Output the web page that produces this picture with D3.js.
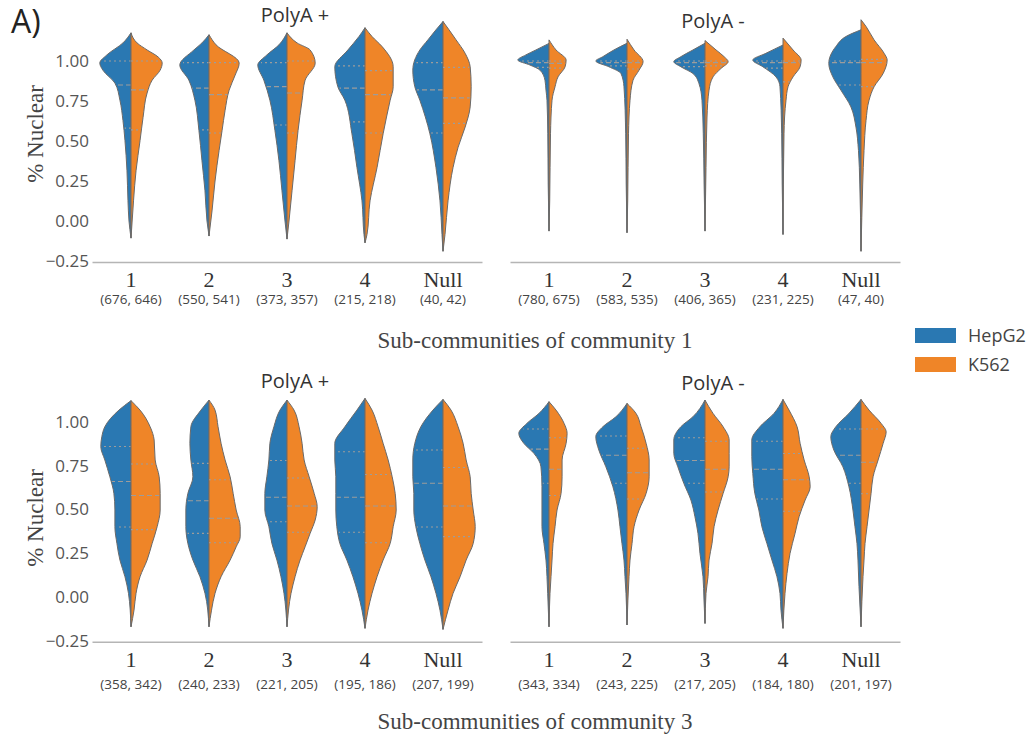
<!DOCTYPE html>
<html>
<head>
<meta charset="utf-8">
<script src="https://d3js.org/d3.v7.min.js"></script>
<style>
  body { margin: 0; background: #fff; }
  .sans { font-family: "Open Sans", "DejaVu Sans", sans-serif; }
  .serif { font-family: "Liberation Serif", "Times New Roman", serif; }
</style>
</head>
<body>
<svg width="1036" height="736"></svg>
<script>
// ---- data ----
const categories = ["1", "2", "3", "4", "Null"];
const cellLines = ["HepG2", "K562"];
const yTicks = [-0.25, 0, 0.25, 0.5, 0.75, 1.0];
const panelTitles = ["PolyA +", "PolyA -", "PolyA +", "PolyA -"];
const xTitles = ["Sub-communities of community 1", "Sub-communities of community 3"];

const countsC1Plus  = ["(676, 646)", "(550, 541)", "(373, 357)", "(215, 218)", "(40, 42)"];
const countsC1Minus = ["(780, 675)", "(583, 535)", "(406, 365)", "(231, 225)", "(47, 40)"];
const countsC3Plus  = ["(358, 342)", "(240, 233)", "(221, 205)", "(195, 186)", "(207, 199)"];
const countsC3Minus = ["(343, 334)", "(243, 225)", "(217, 205)", "(184, 180)", "(201, 197)"];

// violin half profiles: [% nuclear, density] from top to bottom
const densC1PlusHepG2 = [
  [[1.176,0],[1.113,8],[1.038,24],[0.987,31],[0.943,28],[0.862,16],[0.755,11],[0.629,8],[0.503,6],[0.314,4],[0.126,3],[0,2],[-0.107,0]],
  [[1.164,0],[1.113,7],[1.069,15],[0.975,29],[0.88,20],[0.755,14],[0.566,10],[0.377,7],[0.189,4],[0,2],[-0.094,0]],
  [[1.176,0],[1.101,8],[1.038,20],[0.975,29],[0.88,23],[0.755,17],[0.566,12],[0.377,8],[0.189,5],[0,2],[-0.113,0]],
  [[1.208,0],[1.153,6],[1.069,17],[0.964,30],[0.839,27],[0.755,20],[0.545,13],[0.335,8],[0.126,3],[-0.084,1],[-0.136,0]],
  [[1.247,0],[1.195,7],[1.132,15],[1.069,23],[0.943,30],[0.839,28],[0.755,23],[0.545,13],[0.335,7],[0.126,3],[-0.084,1],[-0.189,0]]
];
const densC1PlusK562 = [
  [[1.176,0],[1.113,6],[1.069,16],[1.025,27],[0.987,31],[0.943,29],[0.88,21],[0.80,16],[0.648,12],[0.503,9],[0.314,5],[0.126,2.5],[-0.107,0]],
  [[1.164,0],[1.101,7],[0.987,30],[0.912,26],[0.818,20],[0.692,16],[0.566,13],[0.44,10],[0.25,6],[0.063,3],[-0.094,0]],
  [[1.176,0],[1.113,10],[1.069,23],[0.987,28],[0.88,18],[0.755,15],[0.566,11],[0.377,8],[0.189,5],[0,2],[-0.113,0]],
  [[1.208,0],[1.153,7],[1.090,17],[0.964,28],[0.839,28],[0.755,25],[0.545,18],[0.335,12],[0.126,5],[-0.084,2],[-0.136,0]],
  [[1.247,0],[1.195,6],[1.132,13],[1.048,22],[0.964,27],[0.839,28],[0.713,27],[0.587,22],[0.461,15],[0.335,10],[0.126,5],[-0.084,2],[-0.189,0]]
];
const densC1MinusHepG2 = [
  [[1.11,0],[1.069,13],[1.038,23],[1.006,31],[0.975,19],[0.943,9],[0.88,4],[0.818,3],[0.755,2],[0.545,1.2],[0.231,0.8],[-0.063,0]],
  [[1.111,0],[1.069,13],[1.027,24],[1.0,31],[0.964,18],[0.922,6],[0.839,3],[0.545,1.3],[0.231,0.8],[-0.073,0]],
  [[1.111,0],[1.069,12],[1.027,24],[0.996,31],[0.964,24],[0.922,12],[0.859,6],[0.755,3],[0.545,1.7],[0.231,0.9],[-0.063,0]],
  [[1.10,0],[1.048,17],[1.006,30],[0.964,20],[0.901,7],[0.839,3],[0.545,1.3],[0.231,0.8],[-0.084,0]],
  [[1.195,0],[1.153,15],[1.090,25],[0.985,32],[0.901,28],[0.818,20],[0.713,10],[0.587,5],[0.44,2.5],[0.231,1.2],[-0.189,0]]
];
const densC1MinusK562 = [
  [[1.132,0],[1.069,7],[1.006,17],[0.964,16],[0.901,9],[0.839,6],[0.755,3],[0.545,1.5],[0.126,0.7],[-0.063,0]],
  [[1.136,0],[1.069,7],[0.996,16],[0.943,12],[0.88,6],[0.755,3],[0.545,1.5],[0.126,0.7],[-0.073,0]],
  [[1.128,0],[1.069,11],[1.027,19],[0.996,23],[0.954,16],[0.901,8],[0.818,4],[0.65,2],[0.335,1],[-0.063,0]],
  [[1.143,0],[1.069,10],[1.006,18],[0.964,17],[0.901,10],[0.839,5],[0.755,3],[0.545,1],[-0.084,0]],
  [[1.258,0],[1.216,5],[1.132,13],[1.048,23],[1.006,26],[0.922,22],[0.839,13],[0.755,8],[0.629,5],[0.44,3],[0.231,1.7],[0.021,0.8],[-0.189,0]]
];
const densC3PlusHepG2 = [
  [[1.122,0],[1.068,12],[0.973,26],[0.916,29],[0.859,30],[0.783,26],[0.687,21],[0.592,17],[0.497,16],[0.402,16],[0.306,14],[0.211,11],[0.116,6],[0.021,2.5],[-0.17,0]],
  [[1.125,0],[1.068,8],[0.973,18],[0.878,19],[0.783,18],[0.687,16],[0.592,21],[0.497,23],[0.402,23],[0.306,21],[0.211,16],[0.116,9],[0.021,4],[-0.17,0]],
  [[1.125,0],[1.068,7],[0.973,13],[0.878,17],[0.783,18],[0.687,20],[0.592,22],[0.497,22],[0.402,18],[0.306,15],[0.211,10],[0.116,6],[0.021,3],[-0.17,0]],
  [[1.135,0],[1.068,8],[0.973,20],[0.878,30],[0.783,30],[0.687,29],[0.592,29],[0.497,29],[0.402,28],[0.306,25],[0.211,18],[0.116,12],[0.021,7],[-0.075,3],[-0.179,0]],
  [[1.129,0],[1.068,10],[0.973,22],[0.878,28],[0.783,30],[0.687,30],[0.592,29],[0.497,29],[0.402,27],[0.306,23],[0.211,18],[0.116,12],[0.021,7],[-0.075,3],[-0.185,0]]
];
const densC3PlusK562 = [
  [[1.122,0],[1.068,9],[0.973,19],[0.897,23],[0.783,24],[0.687,28],[0.592,29],[0.497,29],[0.402,26],[0.306,21],[0.211,16],[0.116,9],[0.021,5],[-0.075,3],[-0.17,0]],
  [[1.125,0],[1.068,6],[0.973,9],[0.878,12],[0.783,16],[0.687,21],[0.592,24],[0.497,27],[0.402,31],[0.344,31],[0.287,27],[0.211,21],[0.116,12],[0.021,6],[-0.075,2.5],[-0.17,0]],
  [[1.125,0],[1.068,7],[0.973,12],[0.878,15],[0.783,17],[0.687,22],[0.592,27],[0.516,30],[0.44,28],[0.364,23],[0.287,18],[0.211,13],[0.116,8],[0.021,4],[-0.17,0]],
  [[1.135,0],[1.068,7],[0.973,13],[0.878,18],[0.783,23],[0.687,27],[0.592,30],[0.497,31],[0.402,28],[0.306,25],[0.211,18],[0.116,12],[0.021,7],[-0.075,3],[-0.179,0]],
  [[1.129,0],[1.068,8],[0.973,15],[0.878,20],[0.783,23],[0.687,27],[0.592,28],[0.497,30],[0.402,32],[0.306,30],[0.211,23],[0.116,17],[0.021,10],[-0.075,5],[-0.185,0]]
];
const densC3MinusHepG2 = [
  [[1.116,0],[1.049,10],[0.992,22],[0.935,30],[0.878,25],[0.821,15],[0.744,8],[0.63,7],[0.497,7],[0.402,7],[0.306,5],[0.211,3],[0.116,2],[0.021,1.3],[-0.17,0]],
  [[1.106,0],[1.03,11],[0.973,24],[0.916,31],[0.84,28],[0.744,21],[0.63,14],[0.497,9],[0.402,7],[0.306,5],[0.211,3],[0.116,2],[0.021,1],[-0.16,0]],
  [[1.125,0],[1.03,12],[0.973,24],[0.897,31],[0.821,31],[0.744,27],[0.649,21],[0.554,14],[0.459,10],[0.364,7],[0.249,5],[0.116,2],[-0.017,1],[-0.151,0]],
  [[1.129,0],[1.049,9],[0.973,23],[0.897,31],[0.802,31],[0.706,30],[0.592,28],[0.497,24],[0.402,21],[0.306,16],[0.211,11],[0.116,6],[0.021,3],[-0.075,2],[-0.179,0]],
  [[1.129,0],[1.049,12],[0.973,25],[0.916,30],[0.84,27],[0.744,18],[0.63,12],[0.497,8],[0.402,6],[0.306,4],[0.211,3],[0.059,2],[-0.17,0]]
];
const densC3MinusK562 = [
  [[1.116,0],[1.068,7],[0.992,15],[0.935,18],[0.878,17],[0.783,13],[0.687,13],[0.592,12],[0.497,8],[0.402,6],[0.306,4],[0.211,3],[0.116,2],[0.021,1],[-0.17,0]],
  [[1.106,0],[1.049,9],[0.973,14],[0.878,19],[0.783,22],[0.687,22],[0.592,19],[0.497,12],[0.402,7],[0.306,5],[0.211,3],[0.116,2],[-0.16,0]],
  [[1.125,0],[1.049,8],[0.973,18],[0.897,24],[0.821,24],[0.744,24],[0.687,23],[0.592,18],[0.497,13],[0.402,9],[0.306,7],[0.211,4],[0.116,3],[0.021,1],[-0.151,0]],
  [[1.129,0],[1.068,6],[0.973,14],[0.878,17],[0.783,21],[0.687,26],[0.63,27],[0.554,22],[0.459,16],[0.364,12],[0.249,7],[0.135,4],[0.021,2],[-0.179,0]],
  [[1.129,0],[1.068,8],[0.992,20],[0.944,25],[0.878,22],[0.783,17],[0.687,12],[0.592,10],[0.497,8],[0.402,6],[0.306,4],[0.211,3],[0.116,2],[-0.17,0]]
];

// quartiles [q1, median, q3]
const quartC1PlusHepG2  = [[0.58,0.85,1.0],[0.57,0.83,0.99],[0.60,0.84,0.99],[0.62,0.83,0.97],[0.55,0.82,0.99]];
const quartC1PlusK562   = [[0.57,0.82,1.0],[0.55,0.79,0.99],[0.55,0.80,1.0],[0.55,0.79,0.94],[0.61,0.77,0.96]];
const quartC1MinusHepG2 = [[0.96,0.99,1.0],[0.97,0.99,1.0],[0.965,0.99,1.0],[0.955,0.99,1.0],[0.85,0.99,1.0]];
const quartC1MinusK562  = [[0.955,0.985,1.0],[0.95,0.99,1.0],[0.97,0.99,1.0],[0.87,0.99,1.0],[0.84,0.99,1.01]];
const quartC3PlusHepG2  = [[0.40,0.66,0.86],[0.364,0.55,0.764],[0.43,0.57,0.78],[0.37,0.57,0.83],[0.40,0.65,0.84]];
const quartC3PlusK562   = [[0.385,0.58,0.76],[0.31,0.45,0.67],[0.37,0.52,0.68],[0.31,0.52,0.70],[0.345,0.52,0.74]];
const quartC3MinusHepG2 = [[0.65,0.845,0.96],[0.65,0.81,0.92],[0.65,0.78,0.91],[0.56,0.73,0.89],[0.65,0.81,0.96]];
const quartC3MinusK562  = [[0.58,0.73,0.91],[0.56,0.71,0.85],[0.60,0.73,0.89],[0.49,0.67,0.82],[0.59,0.77,0.96]];

// ---- layout ----
const colors = ["#2a78b2", "#ef8528"];
const colX = [[92, 482], [510, 900]];
const rows = [
  { y: [261, 61], titleY: [22, 28], countsDy: 42, xTitleY: 348, labelY: 134 },
  { y: [640.75, 422], titleY: [388, 390], countsDy: 47, xTitleY: 729, labelY: 518 }
];
const panels = [
  { row: 0, col: 0, title: panelTitles[0], counts: countsC1Plus,  dens: [densC1PlusHepG2, densC1PlusK562],  quart: [quartC1PlusHepG2, quartC1PlusK562] },
  { row: 0, col: 1, title: panelTitles[1], counts: countsC1Minus, dens: [densC1MinusHepG2, densC1MinusK562], quart: [quartC1MinusHepG2, quartC1MinusK562] },
  { row: 1, col: 0, title: panelTitles[2], counts: countsC3Plus,  dens: [densC3PlusHepG2, densC3PlusK562],  quart: [quartC3PlusHepG2, quartC3PlusK562] },
  { row: 1, col: 1, title: panelTitles[3], counts: countsC3Minus, dens: [densC3MinusHepG2, densC3MinusK562], quart: [quartC3MinusHepG2, quartC3MinusK562] }
];

const svg = d3.select("svg");

svg.append("text").attr("class", "sans")
  .attr("x", 11).attr("y", 33)
  .attr("font-size", 32).attr("fill", "#222")
  .text("A)");

// width of a profile at a given value (linear between read points)
function widthAt(prof, v) {
  for (let i = 0; i < prof.length - 1; i++) {
    const a = prof[i], b = prof[i + 1];
    if (v <= a[0] && v >= b[0]) {
      const t = (a[0] - v) / (a[0] - b[0]);
      return a[1] + t * (b[1] - a[1]);
    }
  }
  return 0;
}

panels.forEach(p => {
  const r = rows[p.row];
  const x = d3.scaleBand().domain(categories).range(colX[p.col]);
  const y = d3.scaleLinear().domain([-0.25, 1]).range(r.y);
  const w = d3.scaleLinear().domain([0, 31]).range([0, x.bandwidth() * 0.4]);
  const g = svg.append("g");

  // title
  g.append("text").attr("class", "sans")
    .attr("x", (colX[p.col][0] + colX[p.col][1]) / 2 + 8)
    .attr("y", r.titleY[p.col])
    .attr("text-anchor", "middle")
    .attr("font-size", 20).attr("fill", "#333")
    .text(p.title);

  // y axis labels on the left column only
  if (p.col === 0) {
    const ya = g.append("g")
      .attr("transform", `translate(${colX[0][0]},0)`)
      .call(d3.axisLeft(y).tickValues(yTicks).tickFormat(d3.format(".2f")).tickSize(0).tickPadding(3));
    ya.select(".domain").remove();
    ya.selectAll("text").attr("class", "sans")
      .attr("font-size", 17).attr("fill", "#555");

    g.append("text").attr("class", "serif")
      .attr("transform", `translate(43,${r.labelY}) rotate(-90)`)
      .attr("text-anchor", "middle")
      .attr("font-size", 23).attr("fill", "#444")
      .text("% Nuclear");
  }

  // bottom axis
  const xa = g.append("g")
    .attr("transform", `translate(0,${y(-0.25) + 1})`)
    .call(d3.axisBottom(x).tickSize(0).tickPadding(9.5));
  xa.select(".domain").attr("stroke", "#b5b5b5").attr("stroke-width", 1.5);
  xa.selectAll("text").attr("class", "serif")
    .attr("font-size", 22).attr("fill", "#333");
  xa.selectAll(".tick").append("text")
    .attr("class", "sans")
    .attr("y", r.countsDy)
    .attr("text-anchor", "middle")
    .attr("font-size", 13.5).attr("fill", "#444")
    .text((d, i) => p.counts[i]);

  // violins
  categories.forEach((c, i) => {
    const cx = x(c) + x.bandwidth() / 2;
    const vg = g.append("g").attr("transform", `translate(${cx},0)`);
    [-1, 1].forEach((side, s) => {
      const prof = p.dens[s][i];
      const area = d3.area()
        .y(d => y(d[0]))
        .x0(0)
        .x1(d => side * w(d[1]))
        .curve(d3.curveMonotoneY);
      vg.append("path")
        .attr("d", area(prof))
        .attr("fill", colors[s])
        .attr("stroke", "#6a6a6a")
        .attr("stroke-width", 1)
        .attr("stroke-linejoin", "round");

      p.quart[s][i].forEach((q, k) => {
        const half = Math.max(0, w(widthAt(prof, q)) - 1);
        vg.append("line")
          .attr("x1", 0).attr("x2", side * half)
          .attr("y1", y(q)).attr("y2", y(q))
          .attr("stroke", "#9c9c9c")
          .attr("stroke-width", 1.2)
          .attr("stroke-dasharray", k === 1 ? "5,3" : "2,3");
      });
    });
  });
});

// x titles
rows.forEach((r, i) => {
  svg.append("text").attr("class", "serif")
    .attr("x", 535).attr("y", r.xTitleY)
    .attr("text-anchor", "middle")
    .attr("font-size", 23).attr("fill", "#444")
    .text(xTitles[i]);
});

// legend
const leg = svg.append("g").attr("transform", "translate(915,328)");
cellLines.forEach((name, i) => {
  leg.append("rect")
    .attr("x", 0).attr("y", i * 29)
    .attr("width", 41).attr("height", 15)
    .attr("fill", colors[i]);
  leg.append("text").attr("class", "sans")
    .attr("x", 53).attr("y", i * 29 + 14)
    .attr("font-size", 18).attr("fill", "#444")
    .text(name);
});
</script>
</body>
</html>
